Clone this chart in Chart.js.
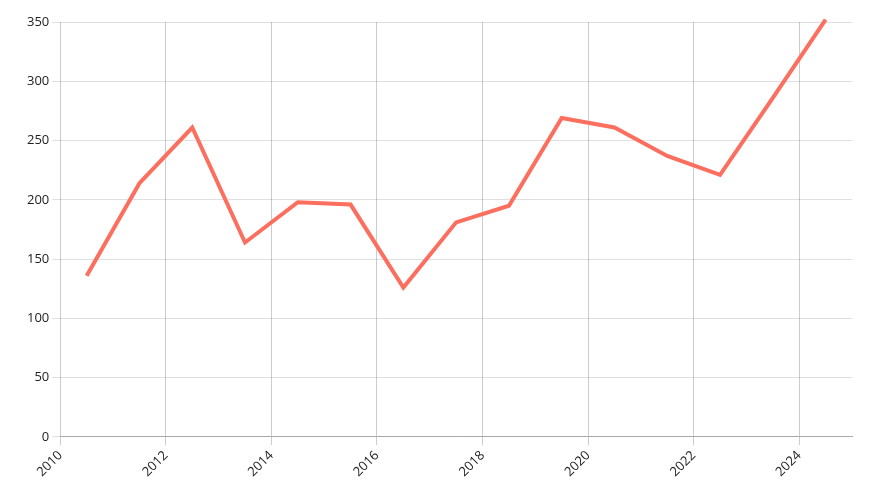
<!DOCTYPE html>
<html><head><script src="https://cdn.jsdelivr.net/npm/chart.js@4"></script>
<style>body{margin:0}#w{width:873px;height:500px}</style></head>
<body><div id="w"><canvas id="c"></canvas></div>
<script>
const years=[2010.5,2011.5,2012.5,2013.5,2014.5,2015.5,2016.5,2017.5,2018.5,2019.5,2020.5,2021.5,2022.5,2023.5,2024.5];
const values=[136,214,261,164,198,196,126,181,195,269,261,237,221,286,352];
Chart.defaults.font.family="Open Sans";
Chart.defaults.font.size=13;
Chart.defaults.color="#222";
new Chart(document.getElementById('c'),{type:'line',
data:{datasets:[{data:years.map((x,i)=>({x,y:values[i]})),borderColor:'#fc6e5e',borderWidth:4,pointRadius:0,tension:0,clip:false}]},
options:{responsive:true,maintainAspectRatio:false,animation:false,
layout:{padding:{top:22,right:21,left:24,bottom:17}},
plugins:{legend:{display:false},tooltip:{enabled:false}},
scales:{x:{type:'linear',min:2010,max:2025,ticks:{stepSize:2,maxRotation:45,minRotation:45,callback:v=>v===2025?null:String(v)},grid:{color:'rgba(0,0,0,0.2)'},border:{color:'#aaa'}},
y:{min:0,max:350,ticks:{stepSize:50},grid:{color:'rgba(0,0,0,0.12)'},border:{display:false}}}}});
</script></body></html>
